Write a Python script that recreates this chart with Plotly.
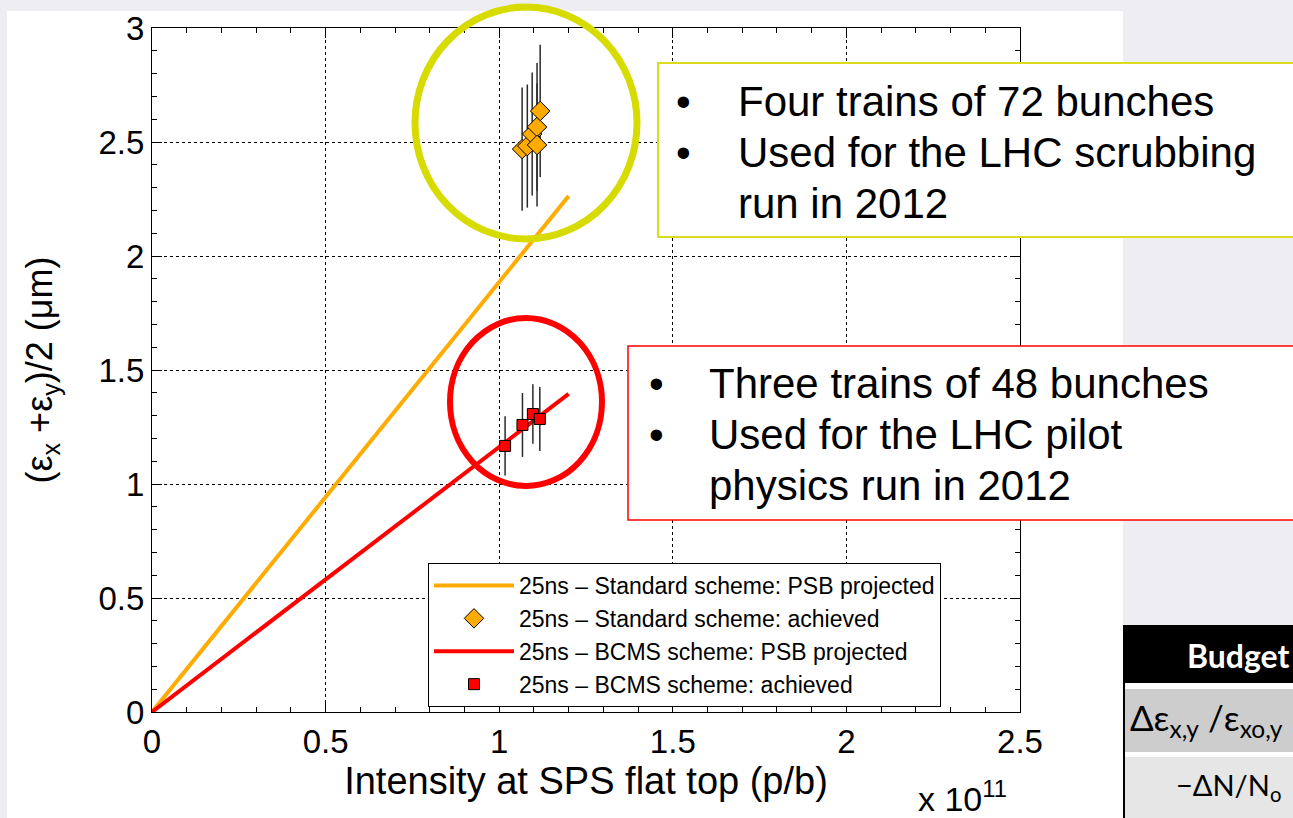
import plotly.graph_objects as go

# ---------------- data (intensity in units of 1e11 p/b, emittance in um) ----------------
std_x = [1.066, 1.081, 1.095, 1.109, 1.109, 1.118]
std_y = [2.469, 2.482, 2.535, 2.566, 2.487, 2.636]
std_err = [0.27, 0.27, 0.27, 0.28, 0.27, 0.29]

bcms_x = [1.017, 1.067, 1.097, 1.117]
bcms_y = [1.167, 1.259, 1.307, 1.285]
bcms_err = [0.13, 0.14, 0.13, 0.14]

proj_x = [0.0, 1.2]
std_proj_y = [0.0, 2.263]
bcms_proj_y = [0.0, 1.395]

legend_names = [
    "25ns \u2013 Standard scheme: PSB projected",
    "25ns \u2013 Standard scheme: achieved",
    "25ns \u2013 BCMS scheme: PSB projected",
    "25ns \u2013 BCMS scheme: achieved",
]
x_ticks = [0, 0.5, 1, 1.5, 2, 2.5]
y_ticks = [0, 0.5, 1, 1.5, 2, 2.5, 3]

std_box_lines = ["Four trains of 72 bunches", "Used for the LHC scrubbing", "run in 2012"]
bcms_box_lines = ["Three trains of 48 bunches", "Used for the LHC pilot", "physics run in 2012"]

# ---------------- layout geometry ----------------
W, H = 1293, 818
L, R, T, B = 152, 273, 28, 106
FONT = "Liberation Sans, Arial, Helvetica, sans-serif"
ORANGE = "#ffab00"
RED = "#ff0000"
YGREEN = "#d7db00"


def px(xp):
    return (xp - L) / (W - L - R)


def py(yp):
    return (H - B - yp) / (H - T - B)


fig = go.Figure()

fig.add_trace(go.Scatter(
    x=proj_x, y=std_proj_y, mode="lines", name=legend_names[0],
    line=dict(color=ORANGE, width=4)))
fig.add_trace(go.Scatter(
    x=std_x, y=std_y, mode="markers", name=legend_names[1],
    marker=dict(symbol="diamond", size=15, color=ORANGE, line=dict(color="black", width=1)),
    error_y=dict(type="data", array=std_err, color="#2a2a2a", thickness=1.5, width=0)))
fig.add_trace(go.Scatter(
    x=proj_x, y=bcms_proj_y, mode="lines", name=legend_names[2],
    line=dict(color=RED, width=4)))
fig.add_trace(go.Scatter(
    x=bcms_x, y=bcms_y, mode="markers", name=legend_names[3],
    marker=dict(symbol="square", size=11, color=RED, line=dict(color="black", width=1)),
    error_y=dict(type="data", array=bcms_err, color="#2a2a2a", thickness=1.5, width=0)))

shapes = [
    # white slide panel
    dict(type="rect", xref="paper", yref="paper", x0=px(7), x1=px(1123), y0=py(830), y1=py(11),
         fillcolor="white", line=dict(width=0), layer="below"),
    # ellipses
    dict(type="circle", xref="paper", yref="paper", x0=px(415), x1=px(637), y0=py(239), y1=py(7),
         line=dict(color=YGREEN, width=7), layer="above"),
    dict(type="circle", xref="paper", yref="paper", x0=px(450), x1=px(602), y0=py(486), y1=py(318),
         line=dict(color=RED, width=6), layer="above"),
    # text boxes
    dict(type="rect", xref="paper", yref="paper", x0=px(658), x1=px(1310), y0=py(237), y1=py(63),
         fillcolor="white", line=dict(color="#dcdc1e", width=2), layer="above"),
    dict(type="rect", xref="paper", yref="paper", x0=px(628), x1=px(1310), y0=py(520), y1=py(346),
         fillcolor="white", line=dict(color=RED, width=1.5), layer="above"),
    # table
    dict(type="rect", xref="paper", yref="paper", x0=px(1123), x1=px(1300), y0=py(683), y1=py(625),
         fillcolor="black", line=dict(width=0), layer="above"),
    dict(type="rect", xref="paper", yref="paper", x0=px(1123), x1=px(1300), y0=py(689), y1=py(683),
         fillcolor="white", line=dict(width=0), layer="above"),
    dict(type="rect", xref="paper", yref="paper", x0=px(1123), x1=px(1300), y0=py(752), y1=py(689),
         fillcolor="#cdcdcd", line=dict(width=0), layer="above"),
    dict(type="rect", xref="paper", yref="paper", x0=px(1123), x1=px(1300), y0=py(757), y1=py(752),
         fillcolor="white", line=dict(width=0), layer="above"),
    dict(type="rect", xref="paper", yref="paper", x0=px(1123), x1=px(1300), y0=py(830), y1=py(757),
         fillcolor="#e6e6e6", line=dict(width=0), layer="above"),
    dict(type="line", xref="paper", yref="paper", x0=px(1124), x1=px(1124), y0=py(830), y1=py(683),
         line=dict(color="black", width=2), layer="above"),
]

annotations = []
for i, (txt_s, txt_b) in enumerate(zip(std_box_lines, bcms_box_lines)):
    ys = 101 + 51 * i
    yb = 383 + 51 * i
    if i < 2:
        annotations.append(dict(xref="paper", yref="paper", x=px(683), y=py(ys), text="\u2022",
                                showarrow=False, xanchor="center", yanchor="middle",
                                font=dict(family=FONT, size=42, color="black")))
        annotations.append(dict(xref="paper", yref="paper", x=px(656), y=py(yb), text="\u2022",
                                showarrow=False, xanchor="center", yanchor="middle",
                                font=dict(family=FONT, size=42, color="black")))
    annotations.append(dict(xref="paper", yref="paper", x=px(736), y=py(ys), text=txt_s,
                            showarrow=False, xanchor="left", yanchor="middle",
                            font=dict(family=FONT, size=42, color="black")))
    annotations.append(dict(xref="paper", yref="paper", x=px(707), y=py(yb), text=txt_b,
                            showarrow=False, xanchor="left", yanchor="middle",
                            font=dict(family=FONT, size=42, color="black")))

annotations.append(dict(xref="paper", yref="paper", x=px(916), y=py(820), text="x 10<sup>11</sup>",
                        showarrow=False, xanchor="left", yanchor="bottom",
                        font=dict(family=FONT, size=34, color="black")))

TFONT = "Lato, Open Sans, sans-serif"
annotations.append(dict(xref="paper", yref="paper", x=px(1292), y=py(655), text="<b>Budget</b>",
                        showarrow=False, xanchor="right", yanchor="middle",
                        font=dict(family=TFONT, size=32, color="white")))
annotations.append(dict(xref="paper", yref="paper", x=px(1128), y=py(720),
                        text="\u0394\u03b5<sub>x,y</sub> /\u03b5<sub>xo,y</sub>",
                        showarrow=False, xanchor="left", yanchor="middle",
                        font=dict(family=TFONT, size=35, color="black")))
annotations.append(dict(xref="paper", yref="paper", x=px(1283), y=py(786),
                        text="\u2212\u0394N/N<sub>o</sub>",
                        showarrow=False, xanchor="right", yanchor="middle",
                        font=dict(family=TFONT, size=29, color="black")))

axis_common = dict(
    showline=True, linecolor="black", linewidth=1, mirror="ticks",
    ticks="inside", ticklen=10, tickcolor="black", tickwidth=1,
    showgrid=True, gridcolor="black", griddash="dot", gridwidth=1,
    zeroline=False,
    minor=dict(dtick=0.1, ticks="inside", ticklen=5, tickcolor="black", showgrid=False),
    tickfont=dict(family=FONT, size=33, color="black"),
)

fig.update_layout(
    width=W, height=H,
    margin=dict(l=L, r=R, t=T, b=B, autoexpand=False),
    paper_bgcolor="#eeedf2", plot_bgcolor="white",
    font=dict(family=FONT, color="black"),
    xaxis=dict(range=[0, 2.5], tickvals=x_ticks, ticktext=[str(v) for v in x_ticks],
               title=dict(text="Intensity at SPS flat top (p/b)", standoff=2,
                          font=dict(family=FONT, size=38, color="black")),
               **axis_common),
    yaxis=dict(range=[0, 3], tickvals=y_ticks, ticktext=[str(v) for v in y_ticks],
               title=dict(text="(\u03b5<sub>x</sub> +\u03b5<sub>y</sub>)/2 (\u03bcm)", standoff=34,
                          font=dict(family=FONT, size=36, color="black")),
               **axis_common),
    showlegend=True,
    legend=dict(x=px(428), y=py(563), xanchor="left", yanchor="top",
                bgcolor="white", bordercolor="black", borderwidth=1,
                font=dict(family=FONT, size=23, color="black"),
                itemwidth=80, tracegroupgap=0),
    shapes=shapes,
    annotations=annotations,
)

fig.write_html("out.html")
